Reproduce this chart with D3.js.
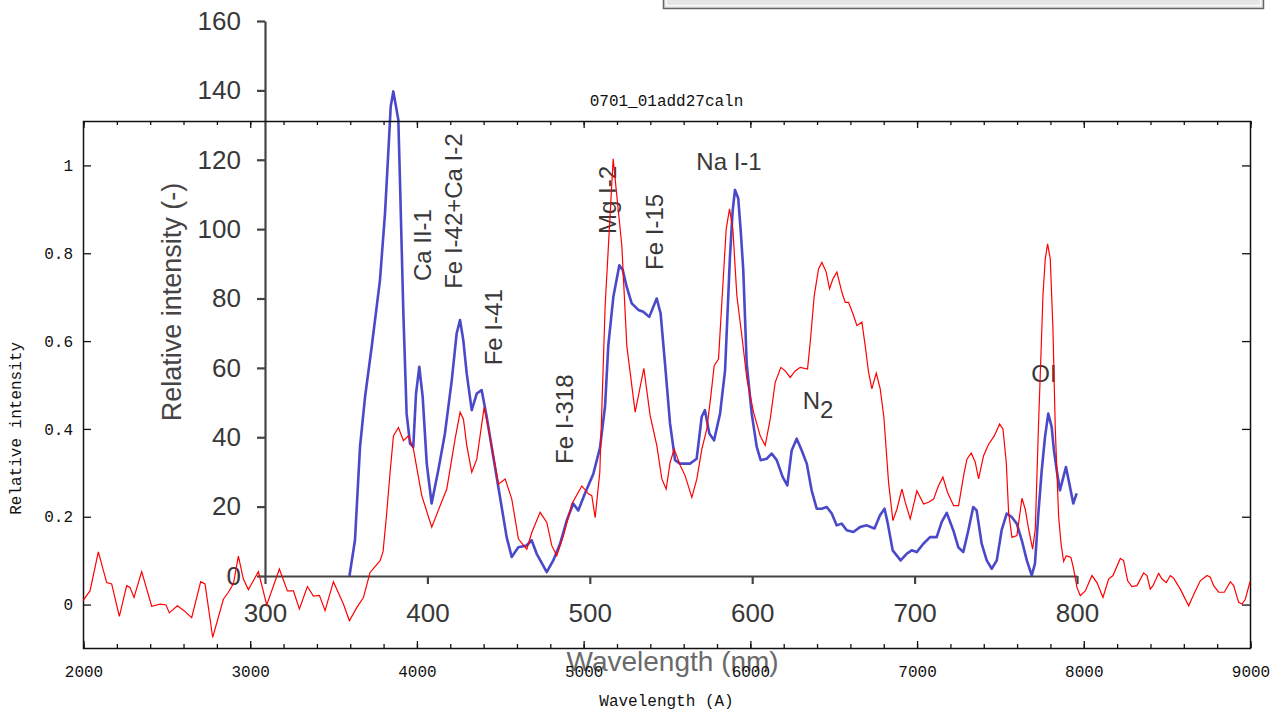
<!DOCTYPE html>
<html>
<head>
<meta charset="utf-8">
<script src="https://cdnjs.cloudflare.com/ajax/libs/d3/7.8.5/d3.min.js"></script>
<style>
body { margin: 0; background: #fff; }
</style>
</head>
<body>
<script>
// red spectrum, outer plot (wavelength in Angstrom, relative intensity)
let redWave = [2000, 2042, 2092, 2142, 2172, 2218, 2262, 2282, 2306, 2352, 2412, 2462, 2498, 2518, 2566, 2606, 2652, 2706, 2732, 2778,
    2842, 2872, 2902, 2932, 2962, 2992, 3052, 3102, 3178, 3226, 3262, 3298, 3346, 3382, 3418, 3452, 3502, 3562, 3598, 3642,
    3682, 3722, 3782, 3800, 3820, 3842, 3862, 3892, 3922, 3952, 3982, 4032, 4092, 4142, 4182, 4232, 4262, 4282, 4302, 4332,
    4362, 4406, 4432, 4462, 4492, 4532, 4572, 4612, 4662, 4692, 4742, 4782, 4812, 4842, 4882, 4932, 4992, 5032, 5052, 5072,
    5100, 5132, 5158, 5180, 5202, 5232, 5262, 5312, 5364, 5402, 5442, 5472, 5498, 5522, 5546, 5582, 5612, 5652, 5682, 5712,
    5742, 5766, 5786, 5812, 5832, 5858, 5878, 5898, 5922, 5952, 5982, 6022, 6062, 6092, 6122, 6152, 6186, 6212, 6242, 6272,
    6302, 6346, 6362, 6386, 6412, 6432, 6458, 6478, 6498, 6522, 6552, 6572, 6592, 6622, 6642, 6672, 6692, 6712, 6732, 6758,
    6782, 6804, 6832, 6858, 6882, 6912, 6932, 6962, 7002, 7042, 7072, 7102, 7132, 7158, 7186, 7222, 7252, 7282, 7302, 7328,
    7352, 7372, 7402, 7432, 7466, 7498, 7518, 7538, 7552, 7572, 7602, 7632, 7652, 7672, 7696, 7712, 7732, 7746, 7758, 7772,
    7786, 7802, 7818, 7832, 7852, 7866, 7882, 7898, 7926, 7942, 7962, 7982, 8012, 8052, 8082, 8118, 8152, 8178, 8222, 8242,
    8266, 8292, 8322, 8362, 8382, 8402, 8418, 8452, 8472, 8498, 8522, 8542, 8582, 8632, 8672, 8702, 8742, 8762, 8782, 8812,
    8846, 8882, 8902, 8932, 8952, 8972, 9000];
let redVal = [0.008, 0.030, 0.119, 0.049, 0.046, -0.028, 0.042, 0.038, 0.015, 0.074, -0.005, 0.000, -0.002, -0.020, -0.004, -0.015, -0.031, 0.051, 0.046, -0.076,
    0.011, 0.027, 0.046, 0.109, 0.057, 0.033, 0.074, -0.002, 0.080, 0.030, 0.030, -0.011, 0.040, 0.018, 0.020, -0.015, 0.051, 0.000, -0.038, -0.008,
    0.015, 0.072, 0.099, 0.120, 0.200, 0.300, 0.383, 0.402, 0.372, 0.383, 0.353, 0.247, 0.175, 0.224, 0.262, 0.376, 0.437, 0.421, 0.361, 0.300,
    0.330, 0.448, 0.399, 0.338, 0.273, 0.285, 0.239, 0.148, 0.125, 0.163, 0.209, 0.186, 0.133, 0.110, 0.156, 0.228, 0.269, 0.251, 0.247, 0.197,
    0.300, 0.680, 0.860, 1.014, 0.930, 0.816, 0.588, 0.437, 0.537, 0.429, 0.361, 0.285, 0.262, 0.323, 0.353, 0.316, 0.292, 0.243, 0.285, 0.353,
    0.399, 0.474, 0.543, 0.558, 0.687, 0.854, 0.900, 0.854, 0.702, 0.611, 0.513, 0.437, 0.383, 0.361, 0.421, 0.505, 0.539, 0.531, 0.516, 0.531,
    0.539, 0.535, 0.596, 0.702, 0.763, 0.778, 0.756, 0.718, 0.740, 0.756, 0.710, 0.687, 0.687, 0.657, 0.634, 0.642, 0.588, 0.528, 0.490, 0.526,
    0.490, 0.425, 0.277, 0.190, 0.216, 0.262, 0.232, 0.194, 0.258, 0.228, 0.232, 0.239, 0.270, 0.289, 0.254, 0.224, 0.224, 0.292, 0.330, 0.344,
    0.323, 0.285, 0.338, 0.364, 0.383, 0.410, 0.399, 0.323, 0.209, 0.152, 0.156, 0.241, 0.216, 0.171, 0.125, 0.171, 0.414, 0.566, 0.702, 0.786,
    0.820, 0.786, 0.626, 0.399, 0.200, 0.140, 0.097, 0.110, 0.106, 0.080, 0.038, 0.019, 0.030, 0.065, 0.049, 0.015, 0.057, 0.065, 0.104, 0.099,
    0.053, 0.040, 0.042, 0.071, 0.065, 0.034, 0.042, 0.070, 0.057, 0.049, 0.065, 0.059, 0.034, -0.004, 0.030, 0.053, 0.065, 0.061, 0.042, 0.027,
    0.027, 0.051, 0.042, 0.004, 0.000, 0.011, 0.051];

// blue spectrum, inner plot (wavelength in nm, relative intensity (-))
let blueWave = [352, 355.4, 358.5, 361.6, 365.7, 370.8, 373.9, 375.9, 377.4, 379, 380.7, 382.1, 383.1, 385.2, 387.2, 389.3, 391.3, 393, 395, 397.1,
    399.6, 402.6, 406.7, 410.8, 415, 418, 420.1, 422.1, 424.2, 427.3, 430.4, 433.4, 436.5, 440.6, 444.7, 448.8, 451.9, 456, 461.1, 464.2,
    467.3, 473.5, 477.5, 481.7, 485.8, 489.8, 492.9, 497, 502.2, 506.3, 509.4, 511.4, 514.5, 518.2, 520.3, 522.7, 525.8, 529.9, 532.9, 536.6,
    541.2, 543.6, 546.3, 549.4, 552.5, 555.5, 561.7, 565.8, 568.9, 570.9, 573.6, 576.5, 580.2, 583.3, 586.3, 588, 589.4, 591.4, 592.9, 594.5,
    596.6, 599.7, 602.8, 605.2, 608.9, 612, 615.1, 618.8, 621.6, 624.3, 627.4, 630.5, 633.6, 636.6, 639.7, 642.8, 645.9, 649, 652, 655.1,
    658.2, 662.3, 666.4, 670.5, 675.3, 678.7, 681.5, 683.5, 686.5, 691.4, 695.1, 698.2, 701.3, 705.4, 709.5, 713.6, 716.7, 719.8, 723.8, 726.9,
    730, 733.1, 736.1, 738.2, 741.3, 744.4, 747.5, 750.6, 753.6, 756.7, 759.8, 762.9, 766, 769.1, 772.1, 774.1, 776.2, 778.3, 780.3, 782.3,
    784.4, 785.8, 787.5, 789.5, 791.6, 793.2, 795.3, 797.7, 799.8];
let blueVal = [0, 10.3, 37.2, 51.6, 66.1, 85.3, 104.6, 121.9, 135.3, 139.7, 135.3, 131.5, 114.2, 75.7, 46.8, 38.2, 37.2, 52.6, 60.3, 51.6,
    32.4, 20.9, 30.5, 41.1, 56.4, 69.9, 73.8, 68, 58.4, 47.8, 52.6, 53.6, 45.9, 34.3, 22.8, 11.2, 5.5, 8.3, 8.8, 10.3,
    6.4, 1.1, 4.5, 9.3, 16, 20.9, 18.9, 23.8, 29.5, 37, 49, 66.5, 80.5, 89.6, 88.2, 83.4, 78.6, 76.7, 76.2, 74.7,
    80, 75.7, 61.3, 44, 33.4, 32.4, 32.4, 33.8, 45.9, 47.8, 41.1, 39.1, 46.8, 59.3, 92, 105.5, 111.3, 108.9, 99.7, 88.2,
    61.3, 46.8, 37.2, 33.4, 33.8, 35.3, 33.4, 28.5, 26.1, 36.2, 39.6, 36.2, 32.4, 24.7, 19.4, 19.4, 19.9, 18, 14.6, 15.1,
    13.2, 12.7, 14.1, 14.6, 13.7, 17.5, 19.4, 15.1, 7.4, 4.5, 6.4, 7.4, 6.9, 9.3, 11.2, 11.2, 15.6, 18.2, 13.2, 8.3,
    6.9, 13.2, 19.9, 18.9, 9.3, 4.5, 2.1, 4.5, 13.2, 18, 17, 15.1, 10.3, 4.5, 0.2, 3.5, 18, 30.5, 40.1, 46.8,
    43, 36.2, 30.5, 24.7, 28.5, 31.4, 26.6, 20.9, 23.8];

let outerXTicks = d3.range(2000, 9001, 1000);
let outerXMinor = d3.range(2000, 9001, 200);
let outerYTicks = [0, 0.2, 0.4, 0.6, 0.8, 1];
let innerXTicks = d3.range(300, 801, 100);
let innerYTicks = d3.range(0, 161, 20);

// emission line labels, placed in inner plot units
let lineNames = ["Ca II-1", "Fe I-42+Ca I-2", "Fe I-41", "Fe I-318", "Mg I-2", "Fe I-15", "Na I-1", "N", "OI"];
let lineSub = ["", "", "", "", "", "", "", "2", ""];
let lineNm = [396.7, 415.8, 440.4, 484.7, 511.2, 540.1, 585.7, 640.5, 779.7];
let lineLevel = [95.4, 105.2, 71.7, 45.2, 108.4, 99.2, 119.4, 50.7, 58.5];
let lineVertical = [true, true, true, true, true, true, false, false, false];

let svgWidth = 1282;
let svgHeight = 713;

let frame = { left: 83, right: 1250, top: 121, bottom: 648 }
let inner = { left: 265, right: 1077, top: 21, bottom: 576 }

let mono = "'Liberation Mono', 'DejaVu Sans Mono', monospace";
let sans = "'Liberation Sans', Arial, sans-serif";
let innerInk = "#383838";

let xOuter = d3.scaleLinear().domain([2000, 9000]).range([frame.left, frame.right])
let yOuter = d3.scaleLinear().domain([-0.1, 1.1]).range([frame.bottom, frame.top])
let xInner = d3.scaleLinear().domain([300, 800]).range([inner.left, inner.right])
let yInner = d3.scaleLinear().domain([0, 160]).range([inner.bottom, inner.top])

let svg = d3.select("body")
    .append("svg")
    .attr("width", svgWidth)
    .attr("height", svgHeight)

// window bar at the top right
svg.append("rect")
    .attr("x", 663.5).attr("y", -4.5)
    .attr("width", 600).attr("height", 13)
    .attr("fill", "#e6e6e6").attr("stroke", "#666").attr("stroke-width", 1.5)
svg.append("rect")
    .attr("x", 666.5).attr("y", -2.5)
    .attr("width", 594).attr("height", 8)
    .attr("fill", "none").attr("stroke", "#fff").attr("stroke-width", 1)

// ---------- inner plot (nm) ----------
let innerG = svg.append("g")

let innerYAxis = d3.axisLeft(yInner)
    .tickValues(innerYTicks)
    .tickSize(8)
    .tickSizeOuter(0)
    .tickPadding(16)

let innerXAxis = d3.axisBottom(xInner)
    .tickValues(innerXTicks)
    .tickSize(8)
    .tickSizeOuter(0)
    .tickPadding(20)

innerG.append("g")
    .attr("transform", "translate(" + inner.left + ",0)")
    .call(innerYAxis)

innerG.append("g")
    .attr("transform", "translate(0," + inner.bottom + ")")
    .call(innerXAxis)

innerG.selectAll(".domain, .tick line")
    .attr("stroke", "#444")
    .attr("stroke-width", 2.2)

innerG.selectAll(".tick text")
    .attr("fill", innerInk)
    .style("font-family", sans)
    .style("font-size", "26px")

innerG.append("text")
    .attr("transform", "translate(172," + yInner(79) + ") rotate(-90)")
    .attr("text-anchor", "middle")
    .attr("dominant-baseline", "central")
    .attr("fill", "#454545")
    .style("font-family", sans)
    .style("font-size", "27px")
    .text("Relative intensity (-)")

innerG.append("text")
    .attr("x", xInner(551))
    .attr("y", 671)
    .attr("text-anchor", "middle")
    .attr("fill", "#6a6a6a")
    .style("font-family", sans)
    .style("font-size", "28px")
    .text("Wavelength (nm)")

let blueLine = d3.line()
    .x(function (d) { return xInner(d[0]) })
    .y(function (d) { return yInner(d[1]) })

innerG.append("path")
    .datum(d3.zip(blueWave, blueVal))
    .attr("d", blueLine)
    .attr("fill", "none")
    .attr("stroke", "#3a3ac4")
    .attr("stroke-width", 2.6)
    .attr("stroke-linejoin", "round")
    .attr("opacity", 0.92)

let labels = innerG.selectAll(".line-label")
    .data(lineNames)
    .enter()
    .append("text")
    .attr("class", "line-label")
    .attr("transform", function (d, i) {
        let t = "translate(" + xInner(lineNm[i]) + "," + yInner(lineLevel[i]) + ")";
        return lineVertical[i] ? t + " rotate(-90)" : t;
    })
    .attr("text-anchor", "middle")
    .attr("dominant-baseline", "central")
    .attr("fill", innerInk)
    .style("font-family", sans)
    .style("font-size", "24px")
    .text(function (d) { return d })

labels.filter(function (d, i) { return lineSub[i] !== "" })
    .append("tspan")
    .attr("dy", 9)
    .text(function (d) { return lineSub[lineNames.indexOf(d)] })

// ---------- outer plot (Angstrom) ----------
let outerG = svg.append("g")

outerG.append("rect")
    .attr("x", frame.left + 0.5)
    .attr("y", frame.top + 0.5)
    .attr("width", frame.right - frame.left)
    .attr("height", frame.bottom - frame.top)
    .attr("fill", "none")
    .attr("stroke", "#111")
    .attr("stroke-width", 1.5)

// minor ticks first, then majors with labels
outerG.append("g")
    .attr("transform", "translate(0.5," + frame.bottom + ")")
    .call(d3.axisBottom(xOuter).tickValues(outerXMinor).tickSize(-4).tickFormat(""))
outerG.append("g")
    .attr("transform", "translate(0.5," + frame.top + ")")
    .call(d3.axisTop(xOuter).tickValues(outerXMinor).tickSize(-4).tickFormat(""))

outerG.append("g")
    .attr("class", "xlab")
    .attr("transform", "translate(0.5," + frame.bottom + ")")
    .call(d3.axisBottom(xOuter).tickValues(outerXTicks).tickSize(-7).tickPadding(18).tickFormat(d3.format("d")))
outerG.append("g")
    .attr("transform", "translate(0.5," + frame.top + ")")
    .call(d3.axisTop(xOuter).tickValues(outerXTicks).tickSize(-7).tickFormat(""))

outerG.append("g")
    .attr("class", "ylab")
    .attr("transform", "translate(" + frame.left + ",0.5)")
    .call(d3.axisLeft(yOuter).tickValues(outerYTicks).tickSize(-8).tickPadding(10).tickFormat(d3.format("~g")))
outerG.append("g")
    .attr("transform", "translate(" + frame.right + ",0.5)")
    .call(d3.axisRight(yOuter).tickValues(outerYTicks).tickSize(-8).tickFormat(""))

outerG.selectAll(".domain").remove()
outerG.selectAll(".tick line")
    .attr("stroke", "#111")
    .attr("stroke-width", 1.3)
outerG.selectAll(".tick text")
    .attr("fill", "#111")
    .style("font-family", mono)
    .style("font-size", "16px")

outerG.append("text")
    .attr("transform", "translate(17," + yOuter(0.4) + ") rotate(-90)")
    .attr("text-anchor", "middle")
    .attr("dominant-baseline", "central")
    .attr("fill", "#111")
    .style("font-family", mono)
    .style("font-size", "16px")
    .text("Relative intensity")

outerG.append("text")
    .attr("x", xOuter(5500))
    .attr("y", 706)
    .attr("text-anchor", "middle")
    .attr("fill", "#111")
    .style("font-family", mono)
    .style("font-size", "16px")
    .text("Wavelength (A)")

outerG.append("text")
    .attr("x", xOuter(5500))
    .attr("y", 106)
    .attr("text-anchor", "middle")
    .attr("fill", "#111")
    .style("font-family", mono)
    .style("font-size", "16px")
    .text("0701_01add27caln")

let redLine = d3.line()
    .x(function (d) { return xOuter(d[0]) })
    .y(function (d) { return yOuter(d[1]) })

outerG.append("path")
    .datum(d3.zip(redWave, redVal))
    .attr("d", redLine)
    .attr("fill", "none")
    .attr("stroke", "#ff0000")
    .attr("stroke-width", 1.2)
</script>
</body>
</html>
